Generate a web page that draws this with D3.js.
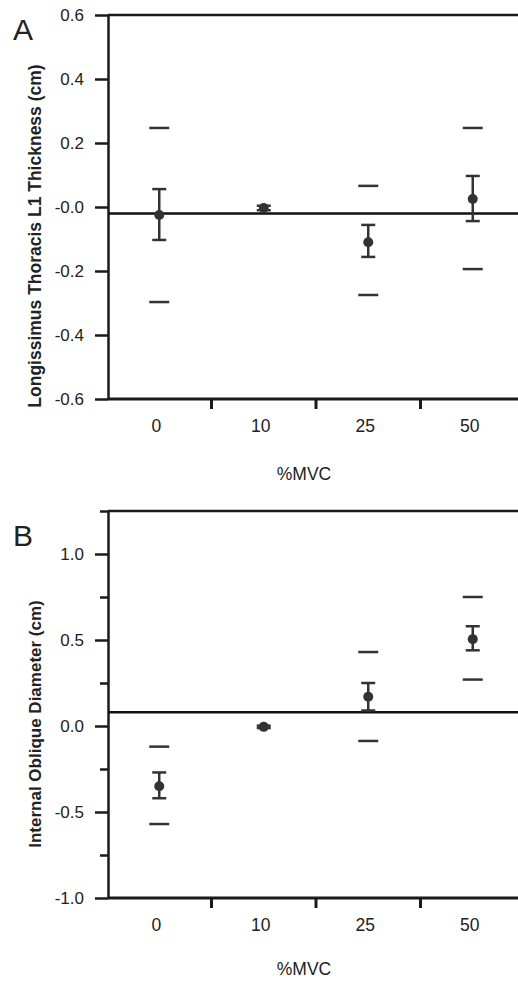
<!DOCTYPE html>
<html lang="en">
<head>
    <meta charset="UTF-8">
    <title>Thickness by %MVC</title>
    <script src="https://d3js.org/d3.v7.min.js"></script>
    <style>
        body { margin: 0; background: #fff; }
        text { font-family: "Liberation Sans", Arial, sans-serif; fill: #222; }
        .axis path, .axis line { stroke: #1a1a1a; }
    </style>
</head>
<body>
    <script>
        // categories on the x axis
        const categories = ["0", "10", "25", "50"];

        // Panel A: Longissimus Thoracis L1 thickness
        const meanA = [-0.025, -0.003, -0.11, 0.025];
        const errLowA = [-0.103, -0.010, -0.156, -0.044];
        const errHighA = [0.056, 0.004, -0.056, 0.097];
        const limLowA = [-0.297, null, -0.275, -0.194];
        const limHighA = [0.247, null, 0.066, 0.247];
        const refA = -0.02;
        const ticksA = [0.6, 0.4, 0.2, 0.0, -0.2, -0.4, -0.6];
        const tickLabelsA = ["0.6", "0.4", "0.2", "-0.0", "-0.2", "-0.4", "-0.6"];

        // Panel B: Internal Oblique diameter
        const meanB = [-0.35, -0.005, 0.17, 0.505];
        const errLowB = [-0.42, -0.012, 0.09, 0.44];
        const errHighB = [-0.27, 0.002, 0.25, 0.58];
        const limLowB = [-0.57, null, -0.087, 0.27];
        const limHighB = [-0.12, null, 0.43, 0.75];
        const refB = 0.08;
        const ticksB = [1.0, 0.5, 0.0, -0.5, -1.0];
        const tickLabelsB = ["1.0", "0.5", "0.0", "-0.5", "-1.0"];
        const minorTicksB = [1.25, 0.75, 0.25, -0.25, -0.75];

        const width = 518, height = 981;
        const svg = d3.select("body").append("svg")
            .attr("width", width)
            .attr("height", height);

        // shared x scale (bands, ticks sit between categories)
        const x = d3.scaleBand().domain(categories).range([107, 525]);
        const axisX = 108;

        function drawPanel(p) {
            const y = d3.scaleLinear().domain(p.domain).range(p.range);
            const g = svg.append("g");
            const top = p.range[1], bottom = p.range[0];

            // minor ticks
            g.append("g").attr("class", "axis")
                .attr("transform", `translate(${axisX},0)`)
                .call(d3.axisLeft(y).tickValues(p.minor).tickSize(8).tickFormat(""))
                .call(a => a.select(".domain").remove())
                .selectAll("line").attr("stroke-width", 2.5);

            // major ticks + labels
            const yAxis = g.append("g").attr("class", "axis")
                .attr("transform", `translate(${axisX},0)`)
                .call(d3.axisLeft(y).tickValues(p.ticks)
                    .tickFormat((d, i) => p.tickLabels[i])
                    .tickSize(13).tickPadding(11).tickSizeOuter(0));
            yAxis.select(".domain").attr("stroke-width", 2.5);
            yAxis.selectAll("line").attr("stroke-width", 2.5);
            yAxis.selectAll("text").style("font-size", "17px").attr("fill", "#333");

            // top and bottom frame lines
            g.append("line").attr("x1", axisX).attr("x2", width)
                .attr("y1", top).attr("y2", top)
                .attr("stroke", "#1a1a1a").attr("stroke-width", 2.5);
            g.append("line").attr("x1", axisX).attr("x2", width)
                .attr("y1", bottom).attr("y2", bottom)
                .attr("stroke", "#1a1a1a").attr("stroke-width", 3);

            // x ticks at band boundaries
            g.selectAll(".xtick").data(categories.slice(1)).enter().append("line")
                .attr("x1", d => x(d)).attr("x2", d => x(d))
                .attr("y1", bottom).attr("y2", bottom + 10)
                .attr("stroke", "#1a1a1a").attr("stroke-width", 3);

            // x labels
            g.selectAll(".xlab").data(categories).enter().append("text")
                .attr("x", d => x(d) + x.bandwidth() / 2 - 3)
                .attr("y", bottom + 33)
                .attr("text-anchor", "middle")
                .style("font-size", "17.5px")
                .attr("fill", "#333")
                .text(d => d);

            g.append("text")
                .attr("x", 304).attr("y", bottom + p.xTitleDy)
                .attr("text-anchor", "middle")
                .style("font-size", "17.5px")
                .attr("fill", "#333")
                .text("%MVC");

            // y title
            g.append("text")
                .attr("transform", `translate(${p.titleX},${p.titleY}) rotate(-90)`)
                .attr("text-anchor", "middle")
                .style("font-size", p.titleSize)
                .style("font-weight", "bold")
                .attr("fill", "#222")
                .text(p.title);

            // panel letter
            g.append("text")
                .attr("x", 13).attr("y", p.letterY)
                .style("font-size", "30px")
                .attr("fill", "#111")
                .text(p.letter);

            // reference line
            g.append("line").attr("x1", axisX).attr("x2", width)
                .attr("y1", y(p.ref)).attr("y2", y(p.ref))
                .attr("stroke", "#111").attr("stroke-width", 2.5);

            const cx = d => x(d) + x.bandwidth() / 2;
            const rows = categories.map((c, i) => ({
                c, mean: p.mean[i], lo: p.errLow[i], hi: p.errHigh[i],
                min: p.limLow[i], max: p.limHigh[i]
            }));

            // range dashes
            const dashes = [];
            rows.forEach(r => {
                if (r.min != null) dashes.push({ c: r.c, v: r.min });
                if (r.max != null) dashes.push({ c: r.c, v: r.max });
            });
            g.selectAll(".dash").data(dashes).enter().append("line")
                .attr("x1", d => cx(d.c) - 10).attr("x2", d => cx(d.c) + 10)
                .attr("y1", d => y(d.v)).attr("y2", d => y(d.v))
                .attr("stroke", "#333").attr("stroke-width", 2.5);

            // error bars
            const eb = g.selectAll(".eb").data(rows).enter().append("g");
            eb.append("line")
                .attr("x1", d => cx(d.c)).attr("x2", d => cx(d.c))
                .attr("y1", d => y(d.lo)).attr("y2", d => y(d.hi))
                .attr("stroke", "#333").attr("stroke-width", 2.5);
            eb.append("line")
                .attr("x1", d => cx(d.c) - 7).attr("x2", d => cx(d.c) + 7)
                .attr("y1", d => y(d.lo)).attr("y2", d => y(d.lo))
                .attr("stroke", "#333").attr("stroke-width", 2.5);
            eb.append("line")
                .attr("x1", d => cx(d.c) - 7).attr("x2", d => cx(d.c) + 7)
                .attr("y1", d => y(d.hi)).attr("y2", d => y(d.hi))
                .attr("stroke", "#333").attr("stroke-width", 2.5);
            eb.append("circle")
                .attr("cx", d => cx(d.c)).attr("cy", d => y(d.mean))
                .attr("r", 5).attr("fill", "#333");
        }

        drawPanel({
            domain: [-0.6, 0.6], range: [399, 15],
            ticks: ticksA, tickLabels: tickLabelsA, minor: [],
            mean: meanA, errLow: errLowA, errHigh: errHighA,
            limLow: limLowA, limHigh: limHighA, ref: refA,
            title: "Longissimus Thoracis L1 Thickness (cm)", titleSize: "17.5px",
            titleX: 41, titleY: 236, letter: "A", letterY: 40, xTitleDy: 81
        });

        drawPanel({
            domain: [-1.0, 1.25], range: [898, 511],
            ticks: ticksB, tickLabels: tickLabelsB, minor: minorTicksB,
            mean: meanB, errLow: errLowB, errHigh: errHighB,
            limLow: limLowB, limHigh: limHighB, ref: refB,
            title: "Internal Oblique Diameter  (cm)", titleSize: "17px",
            titleX: 41, titleY: 724, letter: "B", letterY: 546, xTitleDy: 77
        });
    </script>
</body>
</html>
